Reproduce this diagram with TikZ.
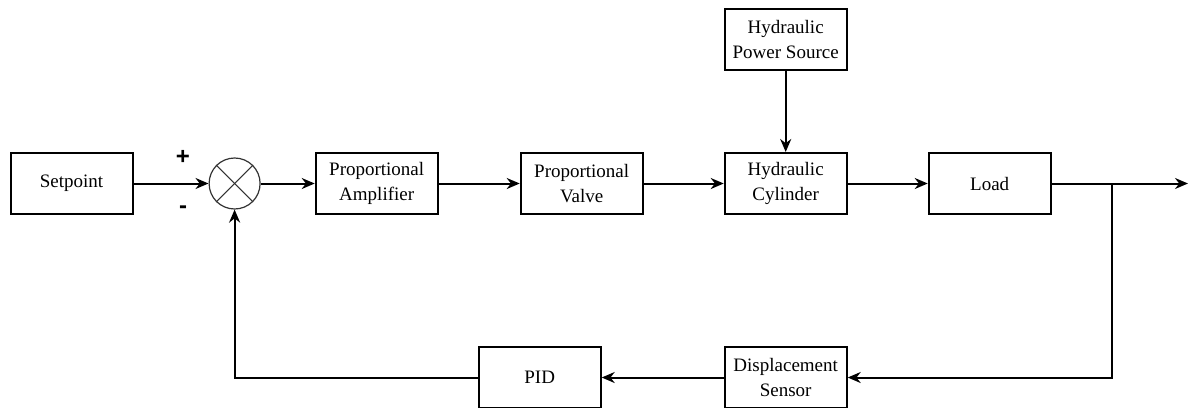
\documentclass[tikz,border=0pt]{standalone}
\usepackage{fontspec}
\setmainfont{Liberation Serif}
\setsansfont{Liberation Sans}
\usetikzlibrary{positioning,arrows.meta}
\tikzset{
    node distance=40pt, % gap between neighbouring blocks
    }

\begin{document}
\begin{tikzpicture}[x=0.5pt,y=-0.5pt,
blocknode/.style={rectangle, draw=black, line width=1pt, minimum width=61pt, minimum height=30.5pt, inner sep=0pt, align=center, font=\fontsize{9.5}{12.5}\selectfont},
sumnode/.style={circle, draw=black!80, line width=0.6pt, minimum size=25.5pt, inner sep=0pt},
signnode/.style={font=\sffamily\bfseries\fontsize{12}{14}\selectfont},
flow/.style={line width=1pt, -{Stealth[length=6.5pt,width=5.5pt]}},
]
\useasboundingbox (0,0) rectangle (1188,407);

\node[blocknode] (setpoint) at (71.5,183.5) {Setpoint};
\node[sumnode] (sum) [right=37.5pt of setpoint] {};
\node[blocknode] (amp) [right=27pt of sum] {Proportional\\Amplifier};
\node[blocknode] (valve) [right=40.5pt of amp] {Proportional\\Valve};
\node[blocknode] (cyl) [right=of valve] {Hydraulic\\Cylinder};
\node[blocknode] (load) [right=of cyl] {Load};
\node[blocknode] (power) [above=40.5pt of cyl] {Hydraulic\\Power Source};
\node[blocknode] (sensor) [below=65.5pt of cyl] {Displacement\\Sensor};
\node[blocknode] (pid) [left=61pt of sensor] {PID};

\node[signnode] (plus) at (183,157) {+};
\node[signnode] (minus) at (183,210) {-};

\coordinate (branch) at (1112,183.5);
\coordinate (out) at (1188,183.5);

% cross in the summing junction
\draw[black!80, line width=0.6pt] (sum.north east) -- (sum.south west);
\draw[black!80, line width=0.6pt] (sum.north west) -- (sum.south east);

\draw[flow] (setpoint.east) -- (sum.west);
\draw[flow] (sum.east) -- (amp.west);
\draw[flow] (amp.east) -- (valve.west);
\draw[flow] (valve.east) -- (cyl.west);
\draw[flow] (power.south) -- (cyl.north);
\draw[flow] (cyl.east) -- (load.west);
\draw[flow] (load.east) -- (out);
\draw[flow] (branch) |- (sensor.east);
\draw[flow] (sensor.west) -- (pid.east);
\draw[flow] (pid.west) -| (sum.south);
\end{tikzpicture}
\end{document}
